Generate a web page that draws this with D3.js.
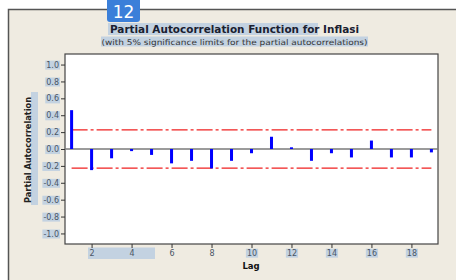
<!DOCTYPE html>
<html><head><meta charset="utf-8">
<script src="https://cdn.jsdelivr.net/npm/d3@7"></script>
<style>body{margin:0;background:#fff}svg{display:block}</style>
</head><body>
<svg id="c" width="456" height="280"></svg>
<script>
const lags = d3.range(1, 20);
const pacf = [0.46, -0.25, -0.11, -0.025, -0.07, -0.17, -0.14, -0.23, -0.14, -0.05,
              0.145, 0.02, -0.14, -0.05, -0.10, 0.10, -0.10, -0.10, -0.04];
const limit = 0.226;
const yTicks = [1.0, 0.8, 0.6, 0.4, 0.2, 0.0, -0.2, -0.4, -0.6, -0.8, -1.0];
const xTicks = [2, 4, 6, 8, 10, 12, 14, 16, 18];
const title = "Partial Autocorrelation Function for Inflasi";
const subtitle = "(with 5% significance limits for the partial autocorrelations)";

const svg = d3.select("#c");
const hl = "#c3d2e1";
const font = "DejaVu Sans, Verdana, sans-serif";

// outer frame
svg.append("rect").attr("x", 8.5).attr("y", 9.5).attr("width", 460).attr("height", 280)
  .attr("fill", "#efebe1").attr("stroke", "#555").attr("stroke-width", 1.5);

const L = 65, R = 438, T = 54, B = 244;
const x = d3.scaleLinear().domain([0.67, 19.33]).range([L, R]);
const y = d3.scaleLinear().domain([-1.125, 1.125]).range([B, T]);

// plot area
svg.append("rect").attr("x", L).attr("y", T).attr("width", R - L).attr("height", B - T)
  .attr("fill", "#fff").attr("stroke", "#444").attr("stroke-width", 1.2);

// title highlights
svg.append("rect").attr("x", 108).attr("y", 23).attr("width", 210).attr("height", 12).attr("fill", hl);
svg.append("rect").attr("x", 101).attr("y", 36.5).attr("width", 267).attr("height", 10).attr("fill", hl);

svg.append("text").attr("x", 234.5).attr("y", 33).attr("text-anchor", "middle")
  .attr("font-family", font).attr("font-weight", "bold").attr("font-size", 10.2)
  .attr("fill", "#1a2030").attr("textLength", 249).attr("lengthAdjust", "spacingAndGlyphs").text(title);
svg.append("text").attr("x", 234.5).attr("y", 44.5).attr("text-anchor", "middle")
  .attr("font-family", font).attr("font-size", 7.8)
  .attr("fill", "#333").attr("textLength", 266).attr("lengthAdjust", "spacingAndGlyphs").text(subtitle);

// badge
svg.append("path").attr("d", "M107,0 H140 V19 Q140,22 137,22 H110 Q107,22 107,19 Z").attr("fill", "#3b7fd9");
svg.append("text").attr("x", 123.5).attr("y", 18).attr("text-anchor", "middle")
  .attr("font-family", "DejaVu Sans, sans-serif").attr("font-size", 17).attr("fill", "#fff").text("12");

// y axis
const fmt = d => d.toFixed(1);
const yAxis = svg.append("g").attr("transform", `translate(${L},0)`)
  .call(d3.axisLeft(y).tickValues(yTicks).tickSize(4).tickFormat(fmt));
yAxis.select(".domain").remove();
yAxis.selectAll(".tick line").attr("stroke", "#333");
yAxis.selectAll(".tick text").attr("font-family", font).attr("font-size", 8).attr("fill", "#4a5666").attr("x", -6);
yAxis.selectAll(".tick").each(function () {
  const t = d3.select(this).select("text");
  const bb = t.node().getBBox();
  d3.select(this).insert("rect", "text").attr("x", bb.x - 1).attr("y", bb.y).attr("width", bb.width + 2).attr("height", bb.height).attr("fill", hl);
});

// x axis
svg.append("rect").attr("x", 88).attr("y", 247.5).attr("width", 67).attr("height", 11.5).attr("fill", hl);
const xAxis = svg.append("g").attr("transform", `translate(0,${B})`)
  .call(d3.axisBottom(x).tickValues(xTicks).tickSize(4));
xAxis.select(".domain").remove();
xAxis.selectAll(".tick line").attr("stroke", "#333");
xAxis.selectAll(".tick text").attr("font-family", font).attr("font-size", 8).attr("fill", "#4a5666").attr("y", 6);
xAxis.selectAll(".tick").filter(d => d >= 10).each(function () {
  const t = d3.select(this).select("text");
  const bb = t.node().getBBox();
  d3.select(this).insert("rect", "text").attr("x", bb.x - 1).attr("y", bb.y).attr("width", bb.width + 2).attr("height", bb.height).attr("fill", hl);
});

// axis titles
svg.append("text").attr("x", 251).attr("y", 269).attr("text-anchor", "middle")
  .attr("font-family", font).attr("font-weight", "bold").attr("font-size", 8.5).attr("fill", "#111").text("Lag");
svg.append("rect").attr("x", 31).attr("y", 92).attr("width", 7).attr("height", 113).attr("fill", hl);
svg.append("text").attr("transform", "translate(31,150) rotate(-90)").attr("text-anchor", "middle")
  .attr("font-family", font).attr("font-weight", "bold").attr("font-size", 8)
  .attr("fill", "#222").attr("textLength", 106).attr("lengthAdjust", "spacingAndGlyphs").text("Partial Autocorrelation");

// zero line
svg.append("line").attr("x1", L).attr("x2", R).attr("y1", y(0)).attr("y2", y(0))
  .attr("stroke", "#7a7a7a").attr("stroke-width", 1.5);

// significance limits
[limit, -limit].forEach(v => {
  svg.append("line").attr("x1", x(1)).attr("x2", x(19)).attr("y1", y(v)).attr("y2", y(v))
    .attr("stroke", "#f02020").attr("stroke-width", 1.2).attr("stroke-dasharray", "16,3,3,3");
});

// bars
svg.selectAll("rect.bar").data(pacf).enter().append("rect").attr("class", "bar")
  .attr("x", (d, i) => x(lags[i]) - 1.5).attr("width", 3)
  .attr("y", d => y(Math.max(0, d))).attr("height", d => Math.max(1.5, Math.abs(y(d) - y(0))))
  .attr("fill", "#0000ff");
</script>
</body></html>
